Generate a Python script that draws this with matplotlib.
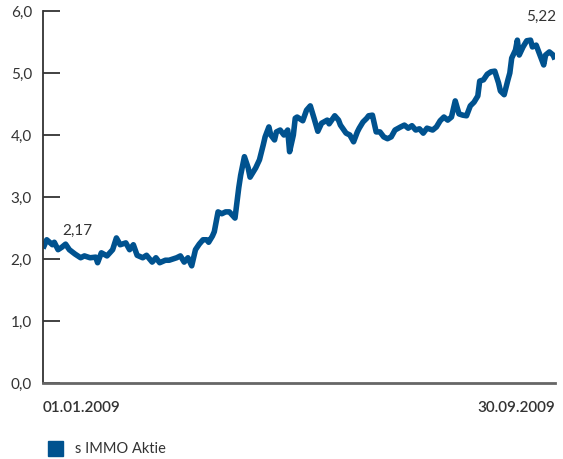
import matplotlib
matplotlib.use("Agg")
import matplotlib.pyplot as plt
import numpy as np
import datetime as dt

days = [0, 2, 5, 6, 8, 10, 12, 14, 17, 20, 22, 25, 28, 29, 31, 34, 37, 39, 41, 44,
        46, 48, 50, 53, 55, 58, 60, 62, 65, 67, 71, 73, 75, 77, 79, 81, 83, 85, 87, 88,
        90, 91, 93, 95, 97, 99, 102, 104, 105, 107, 109, 110, 113, 115, 117, 118, 120, 121, 123, 124,
        126, 128, 130, 131, 133, 134, 135, 138, 140, 142, 144, 146, 148, 151, 152, 155, 157, 158, 161, 163,
        165, 167, 168, 170, 172, 173, 175, 177, 179, 181, 183, 185, 187, 190, 192, 194, 196, 198, 200, 202,
        204, 207, 209, 211, 213, 215, 217, 219, 221, 223, 225, 227, 229, 231, 232, 234, 236, 238, 240, 242,
        243, 245, 247, 248, 249, 251, 252, 253, 255, 257, 259, 260, 262, 264, 266, 267, 269, 271, 272]
values = [2.17, 2.31, 2.23, 2.27, 2.15, 2.19, 2.24, 2.15, 2.08, 2.02, 2.05, 2.02, 2.03, 1.94, 2.10, 2.05, 2.15, 2.34, 2.23, 2.26,
          2.15, 2.23, 2.06, 2.02, 2.06, 1.95, 2.02, 1.94, 1.98, 1.98, 2.02, 2.05, 1.95, 2.02, 1.89, 2.15, 2.24, 2.31, 2.31, 2.27,
          2.37, 2.44, 2.76, 2.73, 2.76, 2.76, 2.66, 3.15, 3.35, 3.65, 3.47, 3.32, 3.47, 3.60, 3.84, 3.97, 4.13, 4.00, 3.92, 4.05,
          4.08, 4.00, 4.08, 3.73, 4.00, 4.27, 4.29, 4.23, 4.40, 4.47, 4.27, 4.06, 4.19, 4.24, 4.18, 4.31, 4.24, 4.16, 4.03, 4.00,
          3.89, 4.05, 4.11, 4.21, 4.27, 4.31, 4.32, 4.05, 4.05, 3.97, 3.94, 3.97, 4.08, 4.13, 4.16, 4.11, 4.15, 4.08, 4.10, 4.03,
          4.11, 4.08, 4.13, 4.23, 4.29, 4.24, 4.29, 4.55, 4.34, 4.32, 4.31, 4.47, 4.53, 4.63, 4.87, 4.89, 4.98, 5.02, 5.03, 4.84,
          4.71, 4.65, 4.89, 5.00, 5.24, 5.37, 5.53, 5.29, 5.42, 5.52, 5.53, 5.42, 5.45, 5.29, 5.13, 5.29, 5.34, 5.29, 5.22]
yticks = [0, 1, 2, 3, 4, 5, 6]
ytick_labels = ["0,0", "1,0", "2,0", "3,0", "4,0", "5,0", "6,0"]
start_label = "01.01.2009"
end_label = "30.09.2009"
series_name = "s IMMO Aktie"

start = dt.date(2009, 1, 1)
dates = [start + dt.timedelta(days=d) for d in days]

blue = "#00528f"
txt = "#333333"

fig = plt.figure(figsize=(5.63, 4.59), dpi=100)
ax = fig.add_axes([43/563, 1-383/459, 512/563, 372/459])
ax.plot(dates, values, color=blue, lw=4.0, solid_joinstyle="round", solid_capstyle="butt")
ax.set_xlim(dates[0], dates[-1])
ax.set_ylim(0, 6)
ax.set_yticks(yticks)
ax.set_yticklabels(ytick_labels, fontsize=11, color=txt, family="Lato")
ax.set_xticks([])
ax.tick_params(axis="y", direction="in", length=12, width=1.3, color="#333333", pad=8)
for s in ["top", "right"]:
    ax.spines[s].set_visible(False)
ax.spines["left"].set_color("#333333")
ax.spines["left"].set_linewidth(1.3)
ax.spines["bottom"].set_color("#666666")
ax.spines["bottom"].set_linewidth(2)

ax.annotate("2,17", xy=(dates[0], values[0]), xytext=(14, 10), textcoords="offset points",
            fontsize=11, color=txt, family="Lato")
ax.annotate("5,22", xy=(dates[-1], values[-1]), xytext=(-21, 28), textcoords="offset points",
            fontsize=11, color=txt, family="Lato")

fig.text(43/563, 1-408/459, start_label, ha="left", va="center", fontsize=11,
         color=txt, family="Lato", fontweight="semibold")
fig.text(555/563, 1-408/459, end_label, ha="right", va="center", fontsize=11,
         color=txt, family="Lato", fontweight="semibold")

fig.patches.append(plt.Rectangle((48/563, 1-456/459), 15/563, 15/459, transform=fig.transFigure,
                                 color=blue, figure=fig))
fig.text(75/563, 1-449/459, series_name, ha="left", va="center", fontsize=10.5,
         color=txt, family="Lato")

fig.savefig("out.png", dpi=100)
